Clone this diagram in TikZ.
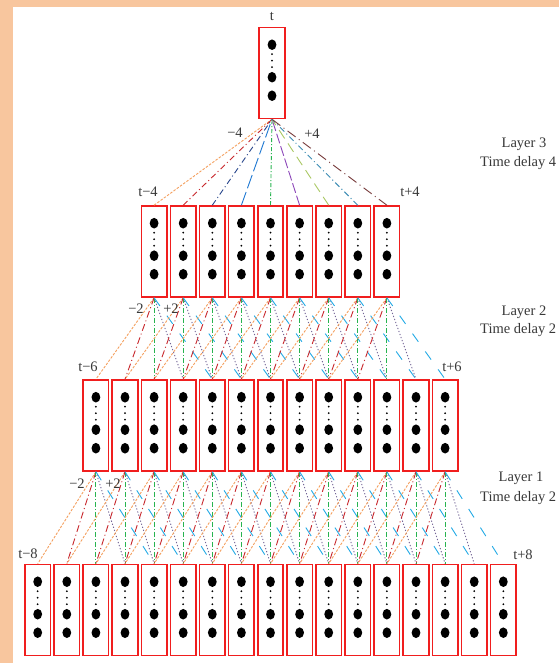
\documentclass[tikz,border=0pt]{standalone}
\usepackage{fontspec}
\setmainfont{Liberation Serif}
\definecolor{peach}{RGB}{248,198,158}
\definecolor{boxred}{RGB}{240,30,30}
\definecolor{cOrange}{RGB}{245,160,95}
\definecolor{cRed}{RGB}{200,40,45}
\definecolor{cGreen}{RGB}{40,180,80}
\definecolor{cPurple}{RGB}{115,100,150}
\definecolor{cSky}{RGB}{35,170,230}
\definecolor{cNavy}{RGB}{40,70,140}
\definecolor{cBlue}{RGB}{30,120,210}
\definecolor{cViolet}{RGB}{140,70,185}
\definecolor{cLime}{RGB}{170,200,100}
\definecolor{cTeal}{RGB}{60,140,180}
\definecolor{cBrown}{RGB}{120,60,60}
\begin{document}
\begin{tikzpicture}[x=1pt,y=-1pt,
  unit/.style={draw=boxred,line width=1.6pt,rectangle,minimum width=25.5pt,
    minimum height=91pt,inner sep=0pt},
  lbl/.style={font=\fontsize{14.5}{17}\selectfont,text=black!78,inner sep=0pt},
  conn/.style={line width=0.9pt},
  % fan from layer 3 into the output unit
  f1/.style={conn,cOrange,dash pattern=on 2.5pt off 1.5pt},
  f2/.style={conn,cRed,dash pattern=on 6pt off 3pt on 1pt off 3pt},
  f3/.style={conn,cNavy,dash pattern=on 6pt off 3pt on 1pt off 3pt},
  f4/.style={conn,cBlue,dash pattern=on 14pt off 4pt},
  f5/.style={conn,cGreen,dash pattern=on 4pt off 2pt on 1pt off 2pt},
  f6/.style={conn,cViolet,dash pattern=on 10pt off 3pt},
  f7/.style={conn,cLime,dash pattern=on 10pt off 6pt},
  f8/.style={conn,cTeal,dash pattern=on 6pt off 3pt on 1pt off 3pt},
  f9/.style={conn,cBrown,dash pattern=on 10pt off 4pt on 1pt off 4pt},
  % five taps of a delay-2 layer
  g0/.style={conn,cOrange,dash pattern=on 2.5pt off 1.5pt},
  g1/.style={conn,cRed,dash pattern=on 7pt off 3pt on 1pt off 3pt},
  g2/.style={conn,cGreen,dash pattern=on 5pt off 2pt on 1pt off 2pt},
  g3/.style={conn,cPurple,dash pattern=on 1.2pt off 2pt},
  g4/.style={conn,cSky,dash pattern=on 10pt off 12pt}]
\useasboundingbox (0,0) rectangle (559,663);
\clip (0,0) rectangle (559,663);
\fill[peach] (0,0) rectangle (559,663);
\fill[white] (13,7) rectangle (570,670);

% units
\node[unit] (T) at (272,73) {};
\foreach \i in {1,...,9}
  \node[unit] (A\i) at ({270.5+29.1*(\i-5)},251.5) {};
\foreach \i in {1,...,13}
  \node[unit] (B\i) at ({270.5+29.1*(\i-7)},425.5) {};
\foreach \i in {1,...,17}
  \node[unit] (C\i) at ({270.5+29.1*(\i-9)},610) {};

% neurons inside each unit
\foreach \n in {T,A1,A2,A3,A4,A5,A6,A7,A8,A9,
    B1,B2,B3,B4,B5,B6,B7,B8,B9,B10,B11,B12,B13,
    C1,C2,C3,C4,C5,C6,C7,C8,C9,C10,C11,C12,C13,C14,C15,C16,C17}{
  \foreach \d in {18,50.5,69}
    \fill ([yshift=-\d pt]\n.north) ellipse [x radius=4.4pt,y radius=5.3pt];
  \foreach \d in {27.5,34,40.5}
    \fill ([yshift=-\d pt]\n.north) circle [radius=1pt];
}

% layer 3 -> output
\foreach \i in {1,...,9}
  \draw[f\i] (A\i.north) -- (T.south);
% layer 2 -> layer 3
\foreach \i in {1,...,9}
  \foreach \k in {0,...,4}{
    \pgfmathtruncatemacro\j{\i+\k}
    \draw[g\k] (A\i.south) -- (B\j.north);
  }
% layer 1 -> layer 2
\foreach \i in {1,...,13}
  \foreach \k in {0,...,4}{
    \pgfmathtruncatemacro\j{\i+\k}
    \draw[g\k] (B\i.south) -- (C\j.north);
  }

% labels
\node[lbl] (lt) at (272,16) {t};
\node[lbl] (m4) at (235,133) {−4};
\node[lbl] (p4) at (312,134) {+4};
\node[lbl] (tm4) at (148,192) {t−4};
\node[lbl] (tp4) at (410,192) {t+4};
\node[lbl] (m2a) at (136,309) {−2};
\node[lbl] (p2a) at (171,309) {+2};
\node[lbl] (tm6) at (88,367) {t−6};
\node[lbl] (tp6) at (452,367) {t+6};
\node[lbl] (m2b) at (77,484) {−2};
\node[lbl] (p2b) at (113,484) {+2};
\node[lbl] (tm8) at (28,554) {t−8};
\node[lbl] (tp8) at (523,555) {t+8};

\node[lbl] (L3) at (524,144) {Layer 3};
\node[lbl,anchor=west] (D3) at (480,163) {Time delay 4};
\node[lbl] (L2) at (524,312) {Layer 2};
\node[lbl,anchor=west] (D2) at (480,330) {Time delay 2};
\node[lbl] (L1) at (521,478) {Layer 1};
\node[lbl,anchor=west] (D1) at (480,498) {Time delay 2};
\end{tikzpicture}
\end{document}
